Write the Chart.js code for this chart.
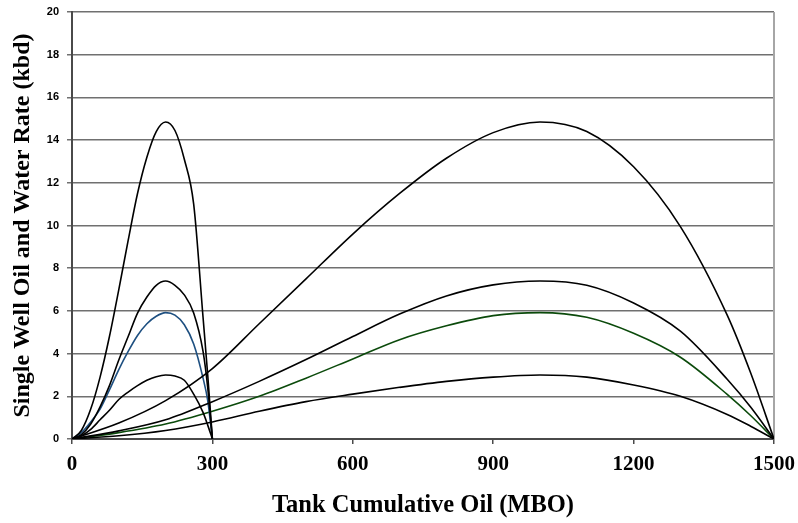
<!DOCTYPE html>
<html>
<head>
<meta charset="utf-8">
<script src="https://cdn.jsdelivr.net/npm/chart.js@4/dist/chart.umd.min.js"></script>
<style>
  html, body { margin: 0; padding: 0; background: #fff; }
</style>
</head>
<body>
<canvas id="c" width="798" height="523"></canvas>
<script>
// short cases, 0-300 MBO
const leftX     = [0, 20, 40, 60, 80, 100, 120, 140, 160, 180, 200, 220, 240, 260, 280, 290, 300];
const leftHigh  = [0, 0.4, 1.4, 2.9, 4.8, 7.0, 9.3, 11.5, 13.2, 14.4, 14.85, 14.45, 13.1, 11.0, 5.7, 3.0, 0];
const leftMid   = [0, 0.2, 0.7, 1.5, 2.5, 3.7, 4.8, 5.9, 6.65, 7.2, 7.4, 7.2, 6.75, 5.9, 4.1, 2.4, 0];
const leftBlue  = [0, 0.3, 0.8, 1.4, 2.3, 3.25, 4.1, 4.85, 5.4, 5.75, 5.92, 5.8, 5.35, 4.45, 2.85, 1.8, 0];
const leftLow   = [0, 0.15, 0.45, 0.9, 1.35, 1.85, 2.2, 2.5, 2.75, 2.92, 3.0, 2.95, 2.75, 2.1, 1.25, 0.65, 0];

// long cases, 0-1500 MBO
const rightX     = [0, 100, 200, 300, 400, 500, 600, 700, 800, 900, 1000, 1100, 1200, 1300, 1400, 1450, 1500];
const rightHigh  = [0, 0.75, 1.8, 3.3, 5.4, 7.5, 9.6, 11.5, 13.15, 14.35, 14.85, 14.4, 12.75, 9.95, 5.8, 3.1, 0];
const rightMid   = [0, 0.38, 0.9, 1.75, 2.7, 3.72, 4.8, 5.85, 6.7, 7.22, 7.4, 7.2, 6.37, 5.05, 2.8, 1.5, 0];
const rightGreen = [0, 0.3, 0.7, 1.3, 2.0, 2.85, 3.75, 4.65, 5.3, 5.78, 5.92, 5.7, 4.95, 3.83, 2.09, 1.1, 0];
const rightLow   = [0, 0.15, 0.4, 0.8, 1.3, 1.75, 2.1, 2.42, 2.7, 2.9, 3.0, 2.9, 2.53, 2.0, 1.15, 0.6, 0];

const xTicks = [0, 300, 600, 900, 1200, 1500];
const yTicks = [0, 2, 4, 6, 8, 10, 12, 14, 16, 18, 20];

const pts = (xs, ys) => xs.map((x, i) => ({ x, y: ys[i] }));
const line = (xs, ys, color) => ({
  data: pts(xs, ys), borderColor: color, borderWidth: 1.6, pointRadius: 0,
  fill: false, cubicInterpolationMode: 'monotone'
});

const BLACK = '#000';
const GRID = '#707070';
const AXIS = '#4a4a4a';
const SERIF = "'Liberation Serif', 'Times New Roman', serif";
const SANS = "'Liberation Sans', Arial, sans-serif";

// grey frame line down the right side of the plot
const frame = {
  id: 'frame',
  beforeDatasetsDraw(c) {
    const { ctx, chartArea: a } = c;
    ctx.save();
    ctx.strokeStyle = '#a6a6a6';
    ctx.lineWidth = 2;
    ctx.beginPath();
    ctx.moveTo(a.right, a.top);
    ctx.lineTo(a.right, a.bottom);
    ctx.stroke();
    ctx.restore();
  }
};

new Chart(document.getElementById('c'), {
  type: 'line',
  data: {
    datasets: [
      line(leftX, leftHigh, BLACK),
      line(leftX, leftMid, BLACK),
      line(leftX, leftLow, BLACK),
      line(rightX, rightHigh, BLACK),
      line(rightX, rightMid, BLACK),
      line(rightX, rightLow, BLACK),
      line(leftX, leftBlue, '#1d4f80'),
      line(rightX, rightGreen, '#0b4a0b')
    ]
  },
  options: {
    responsive: false, animation: false,
    layout: { padding: { left: 0, right: 24, top: 12, bottom: 0 } },
    plugins: { legend: { display: false }, tooltip: { enabled: false } },
    scales: {
      x: {
        type: 'linear', min: 0, max: 1500,
        afterBuildTicks: s => { s.ticks = xTicks.map(v => ({ value: v })); },
        afterFit: s => { s.height = 84; s.paddingLeft = 0; s.paddingRight = 0; },
        grid: { drawOnChartArea: false, drawTicks: true, tickLength: 5, color: AXIS, lineWidth: 1.5 },
        border: { color: AXIS, width: 2 },
        ticks: { color: '#000', padding: 8, maxRotation: 0, callback: v => String(v),
                 font: { family: SERIF, size: 21, weight: 'bold' } },
        title: { display: true, text: 'Tank Cumulative Oil (MBO)', color: '#000', padding: { top: 0, bottom: 3 },
                 font: { family: SERIF, size: 24.5, weight: 'bold' } }
      },
      y: {
        min: 0, max: 20,
        afterBuildTicks: s => { s.ticks = yTicks.map(v => ({ value: v })); },
        afterFit: s => { s.width = 72; s.paddingTop = 0; s.paddingBottom = 0; },
        grid: { color: GRID, lineWidth: 1.5, tickLength: 5 },
        border: { color: AXIS, width: 2 },
        ticks: { color: '#000', padding: 8, callback: v => String(v),
                 font: { family: SANS, size: 11, weight: 'bold' } },
        title: { display: true, text: 'Single Well Oil and Water Rate (kbd)', color: '#000', padding: { top: 8, bottom: 0 },
                 font: { family: SERIF, size: 24, weight: 'bold' } }
      }
    }
  },
  plugins: [frame]
});
</script>
</body>
</html>
